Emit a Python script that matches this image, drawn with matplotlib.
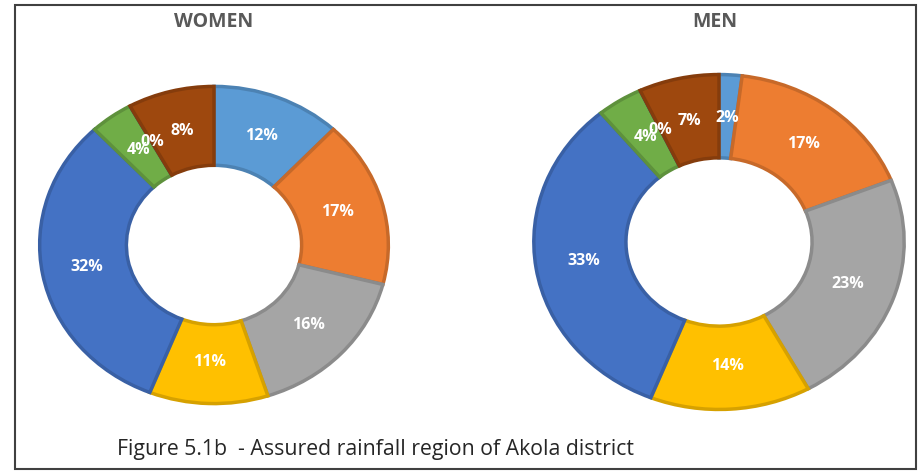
import matplotlib.pyplot as plt
from matplotlib.patches import Rectangle
import matplotlib.colors as mcolors

plt.rcParams['font.family'] = ['Open Sans', 'DejaVu Sans']

# Dados (percentuais, sentido horário a partir do topo)
women_values = [12, 17, 16, 11, 32, 4, 0, 8]
men_values = [2, 17, 23, 14, 33, 4, 0, 7]
slice_colors = ["#5B9BD5", "#ED7D31", "#A5A5A5", "#FFC000",
                "#4472C4", "#70AD47", "#255E91", "#9E480E"]
titles = ["WOMEN", "MEN"]
caption = "Figure 5.1b  - Assured rainfall region of Akola district"

W, H = 924, 472
fig = plt.figure(figsize=(W / 100, H / 100), dpi=100)


def px_axes(cx, cy, rx, ry):
    return fig.add_axes([(cx - rx) / W, (H - cy - ry) / H, 2 * rx / W, 2 * ry / H])


def darker(c, f=0.84):
    r, g, b = mcolors.to_rgb(c)
    return (r * f, g * f, b * f)


def donut(ax, values):
    wedges, texts, autotexts = ax.pie(
        values,
        colors=slice_colors,
        startangle=90,
        counterclock=False,
        radius=0.985,
        autopct=lambda p: "%d%%" % round(p),
        pctdistance=0.74,
        wedgeprops=dict(width=0.49, linewidth=2.5),
        textprops=dict(color="white", fontsize=11.5, fontweight="bold"),
    )
    for w, c in zip(wedges, slice_colors):
        w.set_edgecolor(darker(c))
    ax.set_aspect("auto")
    ax.set_xlim(-1, 1)
    ax.set_ylim(-1, 1)
    ax.axis("off")


# Gráfico WOMEN
ax1 = px_axes(214, 245, 177, 161)
donut(ax1, women_values)

# Gráfico MEN
ax2 = px_axes(719, 242, 188, 170)
donut(ax2, men_values)

# Títulos e legenda da figura
fig.text(214 / W, 1 - 22 / H, titles[0], ha="center", va="center",
         fontsize=14, fontweight="bold", color="#595959")
fig.text(715 / W, 1 - 22 / H, titles[1], ha="center", va="center",
         fontsize=14, fontweight="bold", color="#595959")
fig.text(117 / W, 1 - 450 / H, caption, ha="left", va="center",
         fontsize=15.3, color="#262626")

# Moldura
fig.patches.append(Rectangle((15 / W, 1 - 469 / H), 901 / W, 464 / H,
                             transform=fig.transFigure, fill=False,
                             edgecolor="#404040", linewidth=1.5))

plt.savefig("out.png", dpi=100)
plt.close()
